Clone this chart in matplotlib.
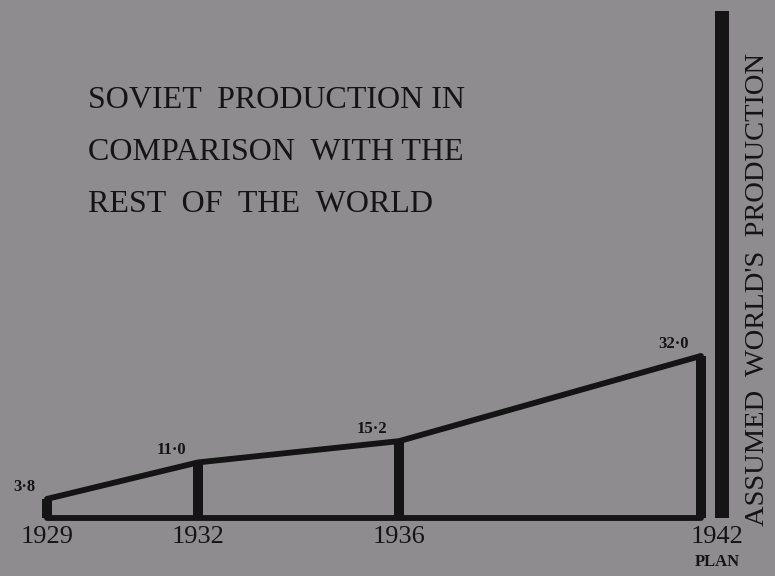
import matplotlib.pyplot as plt

# data
years = [1929, 1932, 1936, 1942]
soviet = [3.8, 11.0, 15.2, 32.0]
value_labels = ['3·8', '11·0', '15·2', '32·0']
year_labels = ['1929', '1932', '1936', '1942']
year_notes = ['', '', '', 'PLAN']
world = 100.0

title_lines = ['SOVIET  PRODUCTION IN', 'COMPARISON  WITH THE', 'REST  OF  THE  WORLD']
world_label = "ASSUMED  WORLD'S  PRODUCTION"

bg = '#8f8c8f'
ink = '#141414'
font = 'Liberation Serif'

fig = plt.figure(figsize=(7.75, 5.76), dpi=100, facecolor=bg)
ax = fig.add_axes([0, 0, 1, 1])
ax.set_facecolor(bg)
ax.set_xlim(1928.066, 1943.473)
ax.set_ylim(-11.4, 102.2)
ax.axis('off')

# soviet bars + outline
ax.bar(years, soviet, width=0.21, color=ink, zorder=2)
ax.plot(years, soviet, color=ink, lw=4.2, solid_capstyle='round', zorder=3)
ax.plot([years[0], years[-1]], [0, 0], color=ink, lw=4.2, solid_capstyle='round', zorder=3)

# world production bar
ax.bar(years[-1] + 0.42, world, width=0.26, color=ink, zorder=2)

for x, y, lab in zip(years, soviet, value_labels):
    ax.annotate(lab, (x, y), xytext=(-12, 4), textcoords='offset pixels',
                ha='right', va='bottom', fontsize=12, fontweight='bold',
                family=font, color=ink)

for i, (x, lab, note) in enumerate(zip(years, year_labels, year_notes)):
    dx = 16 if note else 0
    ax.annotate(lab, (x, 0), xytext=(dx, -8), textcoords='offset pixels',
                ha='center', va='top', fontsize=19, family=font, color=ink)
    if note:
        ax.annotate(note, (x, 0), xytext=(dx, -36), textcoords='offset pixels',
                    ha='center', va='top', fontsize=12, fontweight='bold',
                    family=font, color=ink)

for i, line in enumerate(title_lines):
    fig.text(88 / 775, 1 - (100 + i * 52) / 576, line, ha='left', va='center',
             fontsize=23, family=font, color=ink)

fig.text(758 / 775, 1 - 290 / 576, world_label, rotation=90, ha='center', va='center',
         fontsize=20.5, family=font, color=ink)

plt.savefig('out.png', dpi=100, facecolor=bg)
